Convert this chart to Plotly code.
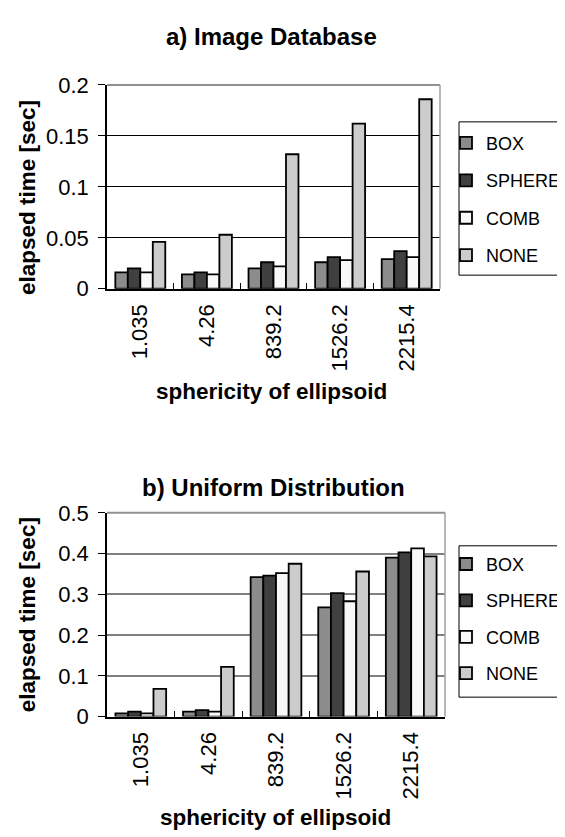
import plotly.graph_objects as go

categories = ["1.035", "4.26", "839.2", "1526.2", "2215.4"]
series_names = ["BOX", "SPHERE", "COMB", "NONE"]
colors = ["#8c8c8c", "#404040", "#f8f8f8", "#cccccc"]

a_box = [0.016, 0.014, 0.020, 0.026, 0.029]
a_sphere = [0.020, 0.016, 0.026, 0.031, 0.037]
a_comb = [0.016, 0.014, 0.022, 0.028, 0.031]
a_none = [0.046, 0.053, 0.132, 0.162, 0.186]

b_box = [0.008, 0.012, 0.342, 0.268, 0.390]
b_sphere = [0.012, 0.016, 0.346, 0.303, 0.403]
b_comb = [0.008, 0.012, 0.352, 0.283, 0.413]
b_none = [0.068, 0.122, 0.375, 0.356, 0.393]

a_ticks = [0, 0.05, 0.1, 0.15, 0.2]
a_ticktext = ["0", "0.05", "0.1", "0.15", "0.2"]
b_ticks = [0, 0.1, 0.2, 0.3, 0.4, 0.5]
b_ticktext = ["0", "0.1", "0.2", "0.3", "0.4", "0.5"]

W, H = 565, 837
FONT = "Arial, Liberation Sans, sans-serif"

def px_x(p):
    return p / W

def px_y(p):
    return 1 - p / H

fig = go.Figure()

a_series = [a_box, a_sphere, a_comb, a_none]
b_series = [b_box, b_sphere, b_comb, b_none]

for name, col, vals in zip(series_names, colors, a_series):
    fig.add_trace(go.Bar(x=categories, y=vals, name=name, xaxis="x", yaxis="y",
                         marker=dict(color=col, line=dict(color="black", width=1.8)),
                         legend="legend", legendgroup="a" + name))
for name, col, vals in zip(series_names, colors, b_series):
    fig.add_trace(go.Bar(x=categories, y=vals, name=name, xaxis="x2", yaxis="y2",
                         marker=dict(color=col, line=dict(color="black", width=1.8)),
                         legend="legend2", legendgroup="b" + name))

a_top, a_bot = px_y(67), px_y(277)
b_top, b_bot = px_y(508), px_y(718)

tickfont = dict(family=FONT, size=22, color="black")
legfont = dict(family=FONT, size=18, color="black")

common_x = dict(type="category", showline=True, linecolor="black", linewidth=1.5,
                ticks="inside", ticklen=6, tickcolor="black", tickson="boundaries",
                tickangle=-90, tickfont=tickfont, showgrid=False, zeroline=False,
                ticklabelstandoff=5)
common_y = dict(showline=True, linecolor="black", linewidth=1.5, ticks="outside",
                ticklen=7, tickcolor="black", tickfont=tickfont, zeroline=False,
                showgrid=True, ticklabelstandoff=5)

fig.update_layout(
    width=W, height=H,
    margin=dict(l=0, r=0, t=0, b=0),
    paper_bgcolor="white", plot_bgcolor="white",
    barmode="group", bargap=0.25, bargroupgap=0,
    font=dict(family=FONT, color="black"),
    xaxis=dict(domain=[px_x(99), px_x(432)], anchor="y", **common_x),
    yaxis=dict(domain=[a_bot, a_top], anchor="x", range=[0, 0.2],
               tickvals=a_ticks, ticktext=a_ticktext, gridcolor="black", gridwidth=1,
               **common_y),
    xaxis2=dict(domain=[px_x(99), px_x(437)], anchor="y2", **common_x),
    yaxis2=dict(domain=[b_bot, b_top], anchor="x2", range=[0, 0.5],
                tickvals=b_ticks, ticktext=b_ticktext, gridcolor="#808080", gridwidth=1.5,
                **common_y),
    legend=dict(x=px_x(438), y=px_y(108), xanchor="left", yanchor="top",
                borderwidth=0, bgcolor="rgba(0,0,0,0)", font=legfont,
                tracegroupgap=11, traceorder="grouped", itemwidth=30),
    legend2=dict(x=px_x(438), y=px_y(542), xanchor="left", yanchor="top",
                 borderwidth=0, bgcolor="rgba(0,0,0,0)", font=legfont,
                 tracegroupgap=10, traceorder="grouped", itemwidth=30),
)

title_font = dict(family=FONT, size=24, color="black")
axis_title_font = dict(family=FONT, size=22.5, color="black")
annots = [
    ("<b>a) Image Database</b>", 263, 17, 0, title_font),
    ("<b>b) Uniform Distribution</b>", 265, 482, 0, title_font),
    ("<b>sphericity of ellipsoid</b>", 263, 383, 0, axis_title_font),
    ("<b>sphericity of ellipsoid</b>", 267, 822, 0, axis_title_font),
    ("<b>elapsed time [sec]</b>", 19.5, 183, -90, axis_title_font),
    ("<b>elapsed time [sec]</b>", 19.5, 613, -90, axis_title_font),
]
for text, ax, ay, ang, f in annots:
    fig.add_annotation(text=text, x=px_x(ax), y=px_y(ay), xref="paper", yref="paper",
                       showarrow=False, xanchor="center", yanchor="middle",
                       textangle=ang, font=f)

# gray plot-area border on top and right
for xa, ya in (("x", "y"), ("x2", "y2")):
    fig.add_shape(type="line", xref=xa + " domain", yref=ya + " domain",
                  x0=0, x1=1, y0=1, y1=1, line=dict(color="#909090", width=2))
    fig.add_shape(type="line", xref=xa + " domain", yref=ya + " domain",
                  x0=1, x1=1, y0=0, y1=1, line=dict(color="#a0a0a0", width=1.5))

# legend frames
fig.add_shape(type="rect", xref="paper", yref="paper",
              x0=px_x(451), x1=px_x(564), y0=px_y(105), y1=px_y(263),
              line=dict(color="black", width=1), fillcolor="white", layer="below")
fig.add_shape(type="rect", xref="paper", yref="paper",
              x0=px_x(451), x1=px_x(564), y0=px_y(542), y1=px_y(698),
              line=dict(color="black", width=1), fillcolor="white", layer="below")

fig.write_html("out.html")
